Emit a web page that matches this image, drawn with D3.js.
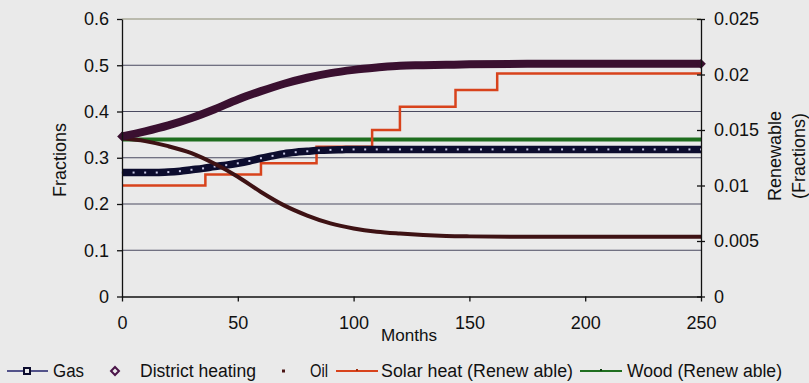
<!DOCTYPE html>
<html><head><meta charset="utf-8">
<script src="https://cdn.jsdelivr.net/npm/d3@7/dist/d3.min.js"></script>
<style>
html,body{margin:0;padding:0;background:#eaeaea;}
svg{display:block;font-family:"Liberation Sans",Arial,sans-serif;}
</style></head><body>
<svg id="c" width="809" height="383"></svg>
<script>
// ---- data ----
const gasMonths = d3.range(0, 251, 5);
const gasValues = [0.268,0.268,0.268,0.268,0.269,0.271,0.274,0.277,0.281,0.284,0.288,0.293,0.299,0.304,0.309,0.312,0.314,0.316,0.317,0.3175,
  0.318,0.318,0.318,0.318,0.318,0.318,0.318,0.318,0.318,0.318,0.318,0.318,0.318,0.318,0.318,0.318,0.318,0.318,0.318,0.318,
  0.318,0.318,0.318,0.318,0.318,0.318,0.318,0.318,0.318,0.318,0.318];
const dhMonths = [0,10,20,30,40,50,60,70,80,90,100,110,120,130,140,150,175,200,225,250];
const dhValues = [0.346,0.357,0.37,0.386,0.405,0.426,0.444,0.46,0.473,0.483,0.49,0.495,0.499,0.5,0.501,0.502,0.503,0.503,0.503,0.503];
const oilMonths = [0,10,20,30,40,50,60,70,80,90,100,110,120,130,140,150,175,200,225,250];
const oilValues = [0.342,0.336,0.325,0.31,0.287,0.259,0.226,0.197,0.175,0.158,0.147,0.14,0.136,0.133,0.131,0.13,0.129,0.129,0.129,0.129];
const solarMonths = [0,36,60,84,108,120,144,162,250];
const solarValues = [0.010,0.011,0.012,0.0135,0.015,0.0171,0.0186,0.0201,0.0201];
const woodMonths = [0,250];
const woodValues = [0.01415,0.01415];
const xTicks = [0,50,100,150,200,250];
const yLeftTicks = [0,0.1,0.2,0.3,0.4,0.5,0.6];
const yRightTicks = [0,0.005,0.01,0.015,0.02,0.025];
const legendLabels = ["Gas","District heating","Oil","Solar heat (Renew able)","Wood (Renew able)"];

const svg = d3.select("#c");
const x = d3.scaleLinear([0,250],[122,701]);
const yL = d3.scaleLinear([0,0.6],[296.5,19]);
const yR = d3.scaleLinear([0,0.025],[296.5,19]);

// gridlines
svg.append("g").selectAll("line").data(yLeftTicks.filter(d=>d>0)).join("line")
  .attr("x1",x(0)).attr("x2",x(250)).attr("y1",d=>yL(d)).attr("y2",d=>yL(d))
  .attr("stroke",d=>d===0.6?"#8a8a70":"#4a4a60").attr("stroke-width",1);

const zip = (a,b)=>a.map((m,i)=>[m,b[i]]);

// wood (right axis)
svg.append("path").datum(zip(woodMonths,woodValues))
  .attr("d",d3.line().x(d=>x(d[0])).y(d=>yR(d[1])))
  .attr("fill","none").attr("stroke","#1f6e1f").attr("stroke-width",4);

// solar (right axis)
svg.append("path").datum(zip(solarMonths,solarValues))
  .attr("d",d3.line().curve(d3.curveStepAfter).x(d=>x(d[0])).y(d=>yR(d[1])))
  .attr("fill","none").attr("stroke","#d8431c").attr("stroke-width",2.5);

// gas
const gasData = zip(gasMonths,gasValues);
svg.append("path").datum(gasData)
  .attr("d",d3.line().curve(d3.curveMonotoneX).x(d=>x(d[0])).y(d=>yL(d[1])))
  .attr("fill","none").attr("stroke","#0c0c2e").attr("stroke-width",7.5);
svg.append("g").selectAll("rect").data(gasData).join("rect")
  .attr("x",d=>x(d[0])-1).attr("y",d=>yL(d[1])-1).attr("width",2).attr("height",2)
  .attr("fill","#c8c8e6");

// oil
svg.append("path").datum(zip(oilMonths,oilValues))
  .attr("d",d3.line().curve(d3.curveMonotoneX).x(d=>x(d[0])).y(d=>yL(d[1])))
  .attr("fill","none").attr("stroke","#3e1214").attr("stroke-width",4);

// district heating
const dhData = zip(dhMonths,dhValues);
svg.append("path").datum(dhData)
  .attr("d",d3.line().curve(d3.curveMonotoneX).x(d=>x(d[0])).y(d=>yL(d[1])))
  .attr("fill","none").attr("stroke","#3a1030").attr("stroke-width",8);
svg.append("g").selectAll("path").data([dhData[0],dhData[dhData.length-1]]).join("path")
  .attr("transform",d=>`translate(${x(d[0])},${yL(d[1])})`)
  .attr("d",d3.symbol(d3.symbolDiamond2,60)).attr("fill","#3a1030");

// axes
const fmtL = d=> d===0?"0":d.toFixed(1);
const gL = svg.append("g").attr("transform",`translate(${x(0)},0)`)
  .call(d3.axisLeft(yL).tickValues(yLeftTicks).tickFormat(fmtL).tickSize(5).tickSizeOuter(0).tickPadding(8));
const gR = svg.append("g").attr("transform",`translate(${x(250)},0)`)
  .call(d3.axisRight(yR).tickValues(yRightTicks).tickFormat(d3.format("~g")).tickSize(4).tickSizeOuter(0).tickPadding(9));
gR.selectAll(".tick line").attr("x1",-4);
const gB = svg.append("g").attr("transform",`translate(0,${yL(0)})`)
  .call(d3.axisBottom(x).tickValues(xTicks).tickSize(5).tickSizeOuter(0));
gB.selectAll(".tick text").attr("dy",0).attr("y",32);
[gL,gR,gB].forEach(g=>{
  g.selectAll("text").attr("font-size",18).attr("fill","#111").attr("font-family","Liberation Sans, Arial, sans-serif");
  g.selectAll("line,path").attr("stroke","#111").attr("stroke-width",1.3);
});

// titles
svg.append("text").attr("transform","translate(66,160) rotate(-90)").attr("text-anchor","middle")
  .attr("font-size",18).attr("fill","#111").text("Fractions");
svg.append("text").attr("transform","translate(781,156) rotate(-90)").attr("text-anchor","middle")
  .attr("font-size",18).attr("fill","#111").text("Renewable");
svg.append("text").attr("transform","translate(805,156) rotate(-90)").attr("text-anchor","middle")
  .attr("font-size",18).attr("fill","#111").text("(Fractions)");
svg.append("text").attr("x",409).attr("y",341).attr("text-anchor","middle")
  .attr("font-size",17).attr("fill","#111").attr("textLength",56).attr("lengthAdjust","spacingAndGlyphs").text("Months");

// legend
const ly = 371, lb = 376.5;
const lg = svg.append("g");
const textPos = [[53,31],[140,116],[310,18],[381,192],[627,155]];
lg.selectAll("text").data(legendLabels).join("text")
  .attr("x",(d,i)=>textPos[i][0]).attr("y",lb).attr("font-size",18).attr("fill","#111")
  .attr("textLength",(d,i)=>textPos[i][1]).attr("lengthAdjust","spacingAndGlyphs").text(d=>d);
lg.append("line").attr("x1",7).attr("x2",48).attr("y1",ly).attr("y2",ly).attr("stroke","#20206a").attr("stroke-width",1.5);
lg.append("rect").attr("x",24).attr("y",ly-3).attr("width",6).attr("height",6).attr("fill","#eaeaea").attr("stroke","#0c0c2e").attr("stroke-width",2);
lg.append("path").attr("transform",`translate(115,${ly})`).attr("d",d3.symbol(d3.symbolDiamond2,40))
  .attr("fill","#eaeaea").attr("stroke","#4a1448").attr("stroke-width",2);
lg.append("rect").attr("x",282).attr("y",ly-1.5).attr("width",3).attr("height",3).attr("fill","#4a1414");
lg.append("line").attr("x1",336).attr("x2",378).attr("y1",ly).attr("y2",ly).attr("stroke","#d8431c").attr("stroke-width",2);
lg.append("rect").attr("x",356).attr("y",ly-2).attr("width",2).attr("height",2).attr("fill","#a03010");
lg.append("line").attr("x1",580).attr("x2",622).attr("y1",ly).attr("y2",ly).attr("stroke","#1f6e1f").attr("stroke-width",2);
lg.append("rect").attr("x",600).attr("y",ly-2).attr("width",2).attr("height",2).attr("fill","#104010");
</script>
</body></html>
